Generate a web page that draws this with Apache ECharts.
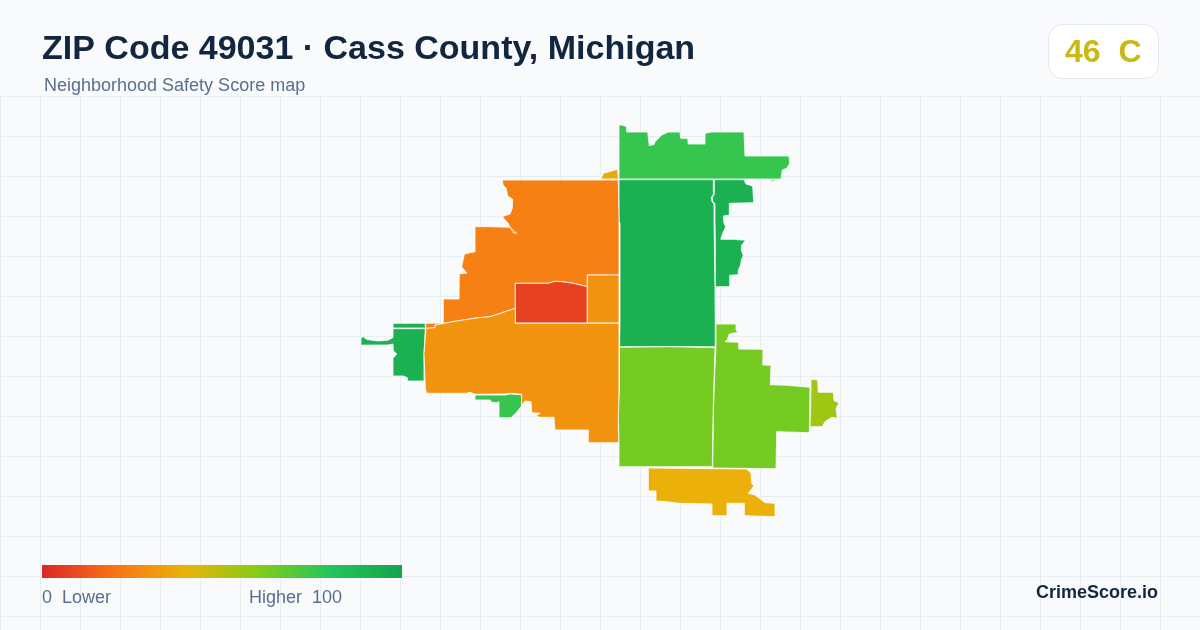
<!DOCTYPE html>
<html>
<head>
<meta charset="utf-8">
<title>ZIP Code 49031</title>
<script src="https://cdn.jsdelivr.net/npm/echarts@6/dist/echarts.min.js"></script>
<style>
html, body { margin: 0; padding: 0; background: #f8fafc; }
#chart { width: 1200px; height: 630px; }
</style>
</head>
<body>
<div id="chart"></div>
<script>
// neighborhoods and their scores
var names = ['north', 'tip', 'center', 'east', 'fleck', 'westStrip', 'west', 'southPocket', 'upperWest', 'core', 'coreEast', 'lowerWest', 'lowerCenter', 'lowerEast', 'farEast', 'south'];
var scores = [76, 36, 92, 92, 92, 92, 92, 76, 24, 7, 30, 30, 63, 63, 55, 39];

// traced outlines, same order as names
var north = [[619,125],[621.7,125],[626.7,126.7],[626.7,132],[647.7,132],[649.3,145.7],[654.3,144.3],[655,141.7],[661.7,135],[668.3,132],[680,132],[680.7,138.3],[687.7,138.3],[688.3,144],[705,144],[705,133.3],[711.7,132],[744,132],[745,156],[789,156],[789.7,163.3],[786.7,168.3],[782.3,170],[781,179],[619,179]];
var tip = [[601,179],[603.3,173.3],[611.7,171],[617.7,169.3],[618.3,179]];
var center = [[619,179.7],[713.3,179.7],[713.3,195],[711.3,197.3],[712,201.7],[714,204],[714,221.7],[715,286.7],[715.3,346.7],[619.5,346.7],[620,323],[620,223],[619,222]];
var east = [[714.3,179.7],[744,179.7],[746,184],[752.7,186],[753.7,202.7],[729.3,203.3],[729.3,215],[723.3,216],[724,223.3],[725.7,226.7],[722.7,233.3],[720.7,239.3],[733.3,239.3],[745.7,240.3],[741.7,245],[741.3,250],[743.3,255.7],[741.3,260],[740.7,265],[738.3,270],[738.3,274.7],[729.7,275.3],[729.7,286.7],[715.3,286.7],[715.3,240],[715,221.7],[715,204],[712.7,201.3],[712.3,197.3],[714.3,194.3]];
var fleck = [[771,180],[776,179.8],[771.5,182]];
var westStrip = [[393,323.3],[425.3,323.3],[425.3,328],[393,328]];
var west = [[393,328.7],[425.3,328.7],[424,353.3],[424,381],[407.3,381],[407.3,377.7],[403.3,376],[393,376],[393,358.3],[396.7,354],[393.3,350.7],[393,344],[388,345],[378,345],[361,345.2],[361,337.8],[363.3,336.8],[367,339.5],[378,341],[388,340.2],[393,337.5]];
var southPocket = [[475,395],[505,395],[510,394],[521.7,394.7],[521.7,405.7],[515.7,413.3],[511,417.7],[499,417.7],[499,401.7],[496.7,402.7],[491.7,402.3],[490,400],[475,400]];
var upperWest = [[502.3,180],[618.3,180],[619,222],[619,275],[587.3,275],[587.3,286.7],[573.3,283.3],[561.7,281.7],[555,281.3],[548.3,283.3],[515.3,283.3],[515.3,308.3],[490,316.7],[478.3,317.7],[456.7,321],[435,325],[435,327.7],[425.7,328.3],[425.7,323.3],[443.3,323],[443.3,299],[459,299],[459.3,274],[467,273],[461.7,267],[464.3,254],[475,251.7],[475,226.7],[490,226.7],[510,227.3],[516.7,233.3],[513,232.7],[508,223],[502.3,216.7],[510,214],[512.3,208.3],[512.7,199.3],[507.7,196],[506,188],[503,185]];
var core = [[515.3,283.3],[548.3,283.3],[555,281.3],[561.7,281.7],[573.3,283.3],[587.3,286.7],[587.3,323],[515.3,323]];
var coreEast = [[587.3,275],[619,275],[619,323],[587.3,323]];
var lowerWest = [[515.3,308.3],[515.3,323.3],[587.3,323.3],[619,323.3],[619,413.3],[618.3,428],[619,442.7],[588.3,442.7],[588.3,430],[555,430],[554,417.3],[540,417.3],[535.7,416],[540,413.3],[531.7,412.7],[531,401.7],[525,401],[521.7,405.7],[521.7,394.3],[510,393.3],[505,394],[475,394.3],[470,392.3],[466.7,393.3],[426.7,393.3],[425.3,388.3],[424,353.3],[426,328.3],[435,327.7],[435,325],[456.7,321],[478.3,317.7],[490,316.7]];
var lowerCenter = [[619.3,347.3],[671,346.7],[715,347.7],[714.3,373.3],[713.3,403.3],[712.3,466.7],[619,466.7],[619,443.3],[618.3,416.7],[619.3,393]];
var lowerEast = [[716,324],[736,324],[736,330],[738,332.3],[729.3,334],[727.3,340],[725,341.7],[738.7,342.3],[738.7,349],[763,349.3],[762.7,365],[771,365.3],[770.3,384.7],[786.7,385.3],[810,387.3],[809.3,432.7],[776.7,431.7],[776,468.7],[712.7,468],[713.7,403.3],[714.7,373.3],[716,347.7]];
var farEast = [[811,379.3],[817.7,380],[818.3,392.3],[833.3,392.3],[834,400.7],[839,402.7],[836,408.3],[837.3,418.3],[831.7,417.3],[825,421.7],[822.3,426.7],[810,426.7],[810.7,406.7]];
var south = [[648.3,468],[746.7,469],[751,473.3],[751.7,483.3],[754,486],[748.3,493.3],[755,495],[761.7,500],[765,502.7],[775,503.3],[775,516.7],[744.3,515.7],[744.3,503.3],[727,503.3],[727,515.7],[712,515.7],[712,504],[679.3,503.3],[666.7,501.7],[656,501],[656,491],[648.3,491]];

var outlines = [north, tip, center, east, fleck, westStrip, west, southPocket, upperWest, core, coreEast, lowerWest, lowerCenter, lowerEast, farEast, south];

// legend ramp, even steps from 0 to 100
var rampColors = ['#dc2626', '#f97316', '#eab308', '#84cc16', '#22c55e', '#16a34a'];

var titleText = 'ZIP Code 49031 · Cass County, Michigan';
var subText = 'Neighborhood Safety Score map';
var grade = '46  C';
var font = '"Liberation Sans", Arial, sans-serif';

var initChart = function () {
    var features = [];
    var mapData = [];
    for (var i = 0; i < names.length; i++) {
        features.push({
            type: 'Feature',
            properties: { name: names[i] },
            geometry: { type: 'Polygon', coordinates: [outlines[i]] }
        });
        mapData.push({ name: names[i], value: scores[i] });
    }
    echarts.registerMap('zip49031', { type: 'FeatureCollection', features: features });

    // the visualMap bar has fixed rounded ends, so the scale is drawn square from the same ramp
    var rampStops = rampColors.map(function (c, k) {
        return { offset: k / (rampColors.length - 1), color: c };
    });

    var chart = echarts.init(document.getElementById('chart'), null, { renderer: 'canvas' });
    var option = {
        animation: false,
        backgroundColor: '#f8fafc',
        title: [
            {
                text: titleText,
                left: 42, top: 33, padding: 0,
                textStyle: { fontFamily: font, fontSize: 34, fontWeight: 'bold', color: '#12263f' }
            },
            {
                text: subText,
                left: 44, top: 77, padding: 0,
                textStyle: { fontFamily: font, fontSize: 18, fontWeight: 'normal', color: '#5a6f8c' }
            }
        ],
        grid: { left: 0, right: 0, top: 96, bottom: 0 },
        xAxis: {
            type: 'value', min: 0, max: 1200, interval: 40,
            axisLine: { show: false }, axisTick: { show: false }, axisLabel: { show: false },
            splitLine: { lineStyle: { color: '#e6eef2', width: 1 } }
        },
        yAxis: {
            type: 'value', min: 0, max: 534, interval: 40, inverse: true,
            axisLine: { show: false }, axisTick: { show: false }, axisLabel: { show: false },
            splitLine: { lineStyle: { color: '#e6eef2', width: 1 } }
        },
        visualMap: {
            type: 'continuous',
            show: false,
            seriesIndex: 0,
            min: 0, max: 100,
            inRange: { color: rampColors }
        },
        series: [
            {
                type: 'map',
                map: 'zip49031',
                data: mapData,
                projection: {
                    project: function (p) { return p; },
                    unproject: function (p) { return p; }
                },
                boundingCoords: [[0, 0], [1200, 630]],
                left: 0, top: 0, width: 1200, height: 630,
                aspectScale: 1,
                roam: false,
                silent: true,
                label: { show: false },
                itemStyle: { borderColor: '#ffffff', borderWidth: 0.8, borderJoin: 'miter', borderMiterLimit: 4 }
            }
        ],
        graphic: [
            {
                type: 'rect', left: 42, top: 565, z: 10,
                shape: { width: 360, height: 13 },
                style: { fill: new echarts.graphic.LinearGradient(0, 0, 1, 0, rampStops) }
            },
            {
                type: 'rect', left: 1048, top: 24, z: 10,
                shape: { width: 110, height: 54, r: 14 },
                style: { fill: '#ffffff', stroke: '#e2e8f0', lineWidth: 1 }
            },
            {
                type: 'text', left: 1065, top: 37, z: 11,
                style: { text: grade, fontFamily: font, fontSize: 32, fontWeight: 'bold', fill: '#c9b914' }
            },
            {
                type: 'text', left: 42, top: 589, z: 10,
                style: { text: '0  Lower', fontFamily: font, fontSize: 18, fill: '#5a6f8c' }
            },
            {
                type: 'text', left: 249, top: 589, z: 10,
                style: { text: 'Higher  100', fontFamily: font, fontSize: 18, fill: '#5a6f8c' }
            },
            {
                type: 'text', right: 42, top: 584, z: 10,
                style: { text: 'CrimeScore.io', fontFamily: font, fontSize: 18, fontWeight: 'bold', fill: '#12263f' }
            }
        ]
    };
    chart.setOption(option);
};

initChart();
</script>
</body>
</html>
